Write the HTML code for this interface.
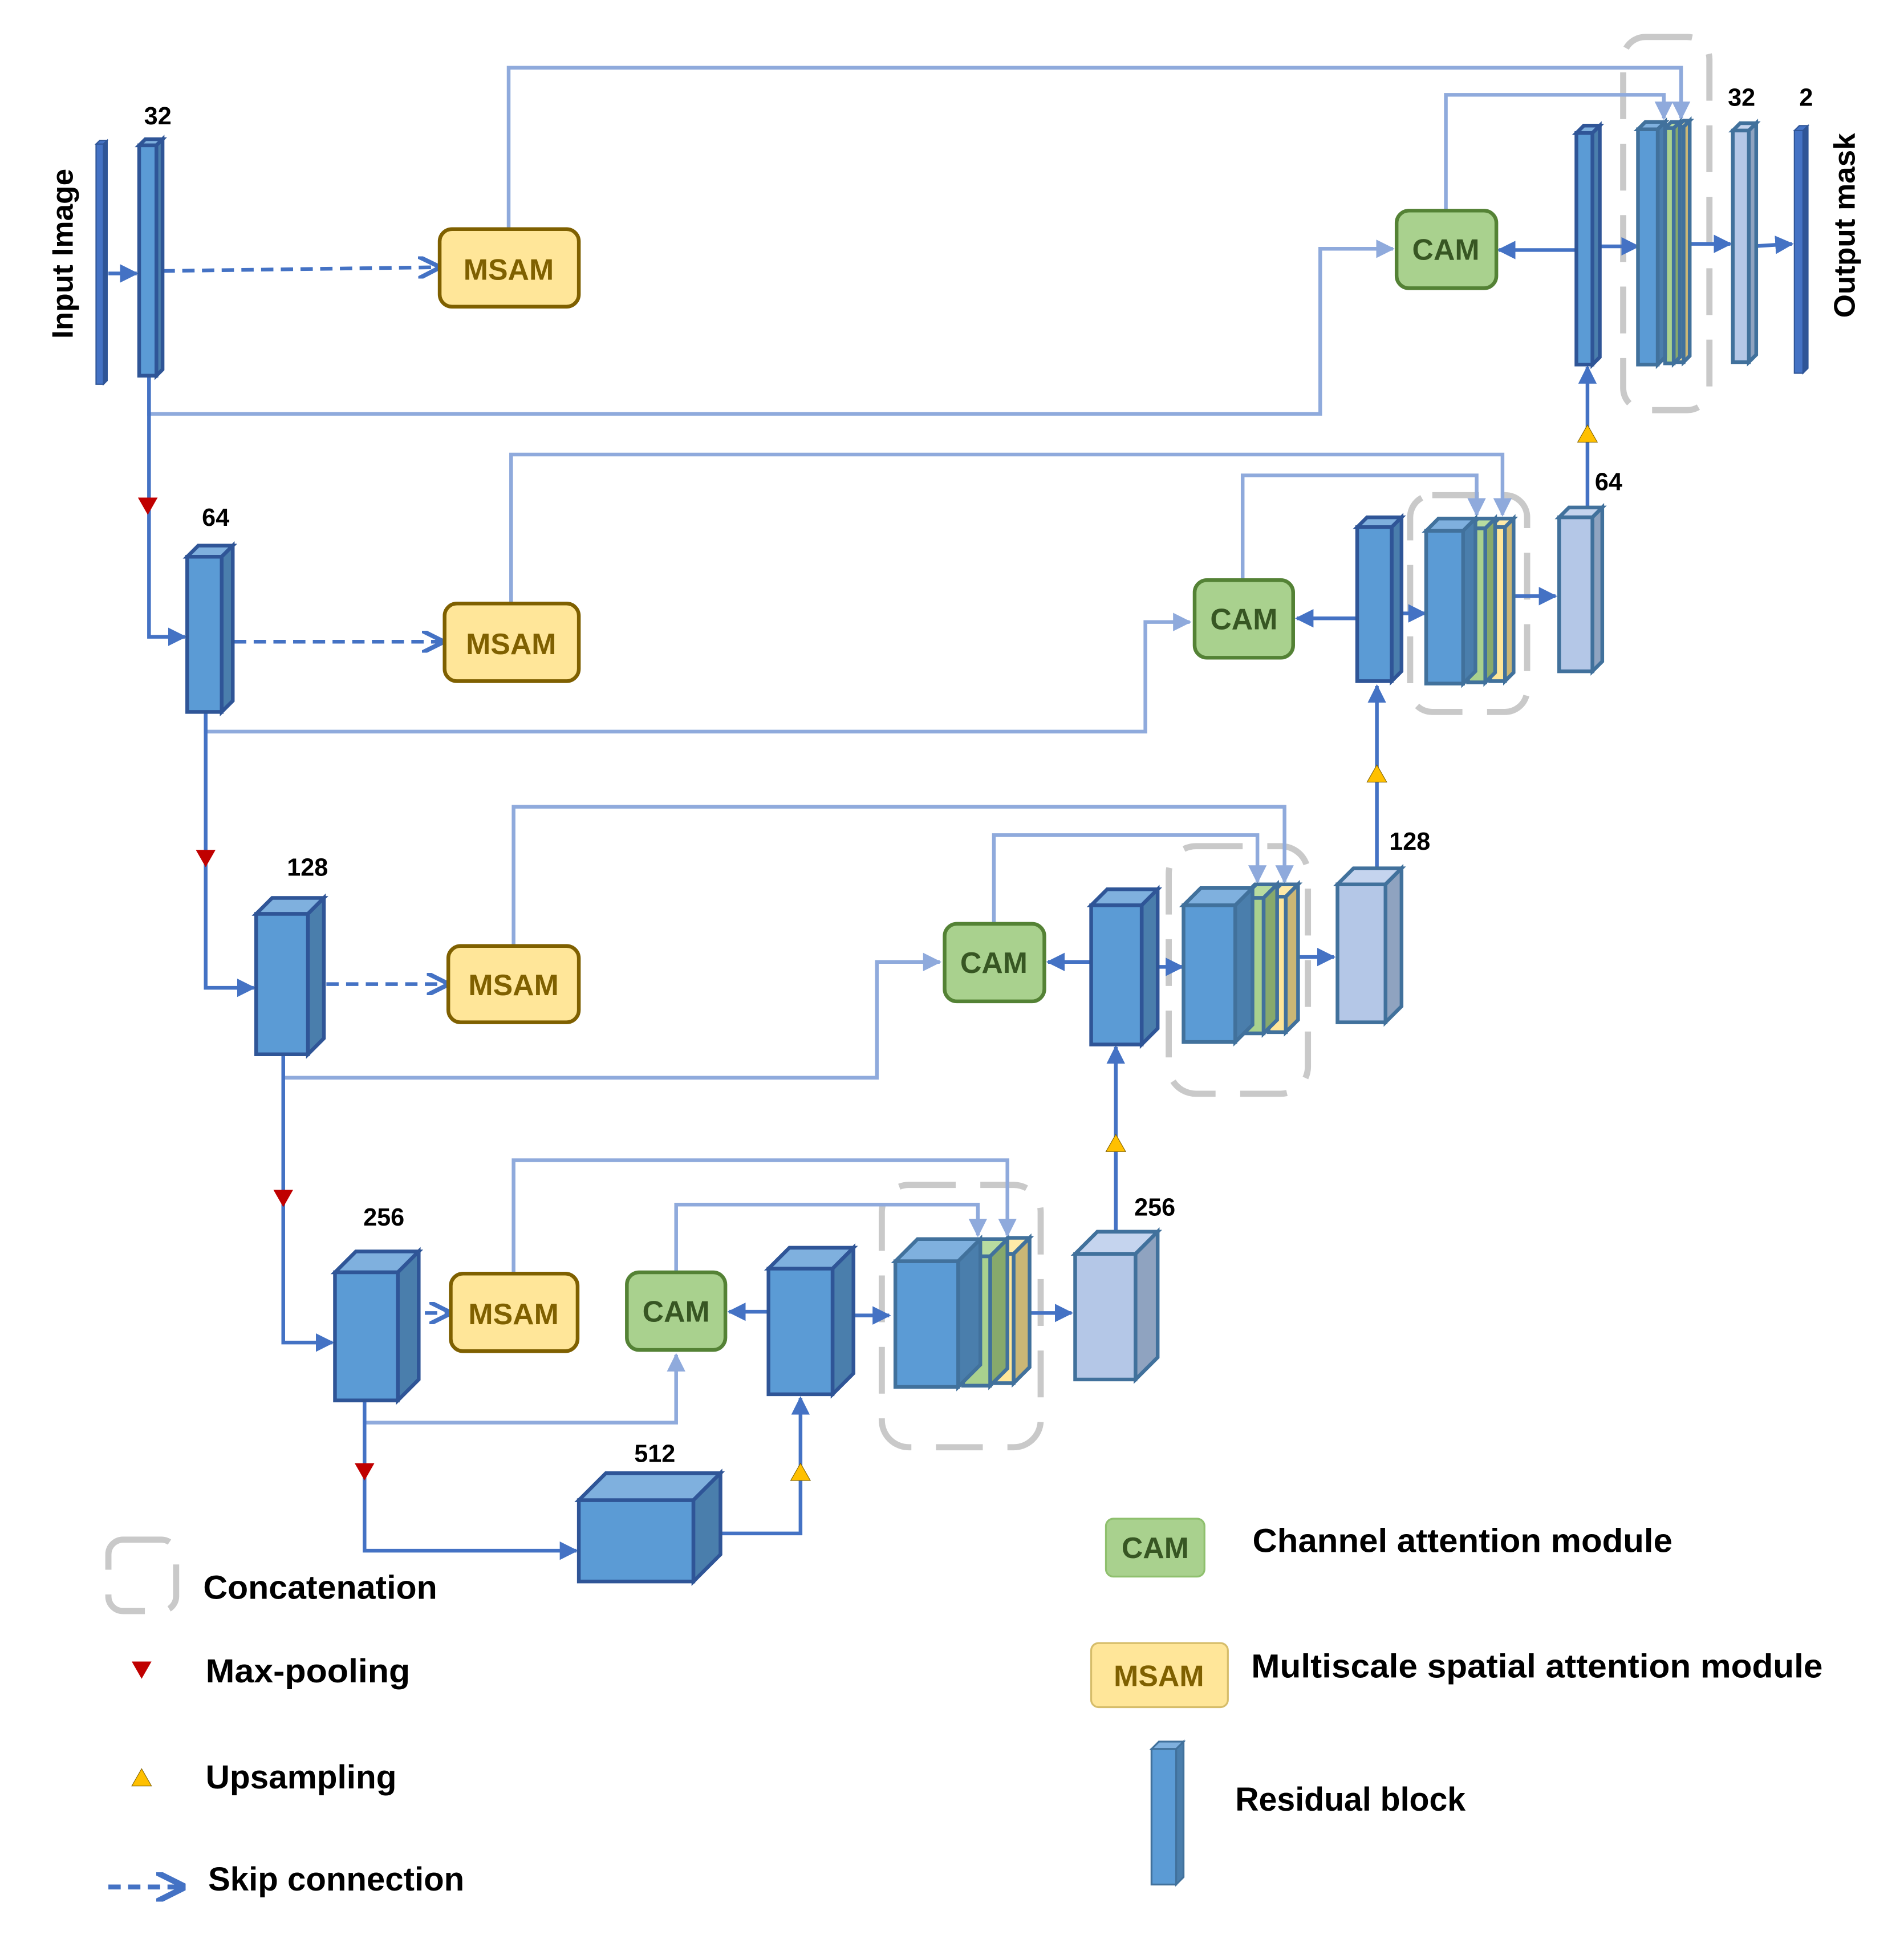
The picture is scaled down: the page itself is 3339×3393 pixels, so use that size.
<!DOCTYPE html>
<html><head><meta charset="utf-8"><style>
html,body{margin:0;padding:0;background:#fff;}
svg{display:block;}
text{font-family:"Liberation Sans",sans-serif;font-weight:bold;}
</style></head><body>
<svg id="s" width="3339" height="3393" viewBox="0 0 1546 1571" preserveAspectRatio="none" xmlns="http://www.w3.org/2000/svg">
<defs>
<marker id="ab" viewBox="0 0 10 10" refX="9" refY="5" markerWidth="5" markerHeight="5" orient="auto"><path d="M0,0L10,5L0,10z" fill="#4472c4"/></marker>
<marker id="al" viewBox="0 0 10 10" refX="9" refY="5" markerWidth="5" markerHeight="5" orient="auto"><path d="M0,0L10,5L0,10z" fill="#8faadc"/></marker>
<marker id="ao" viewBox="0 0 10 10" refX="8" refY="5" markerWidth="6" markerHeight="6" orient="auto"><path d="M0,0L10,5L0,10" fill="none" stroke="#4472c4" stroke-width="2"/></marker>
</defs>
<g fill="none" stroke-width="3">
<g stroke="#c9c9c9" stroke-width="5" stroke-dasharray="38,20">
<rect x="1318" y="30" width="70" height="303" rx="18"/>
<rect x="1145" y="402" width="95" height="176" rx="18"/>
<rect x="949" y="687" width="113" height="201" rx="22"/>
<rect x="716" y="962" width="129" height="213" rx="22"/>
<rect x="88" y="1250" width="55" height="58" rx="12"/>
</g>
<g stroke="#8faadc">
<path d="M413,186V55H1365V96" marker-end="url(#al)"/>
<path d="M1174,171V77H1351V96" marker-end="url(#al)"/>
<path d="M121,305V336H1072V202H1131" marker-end="url(#al)"/>
<path d="M415,490V369H1220V418" marker-end="url(#al)"/>
<path d="M1009,471V386H1199V418" marker-end="url(#al)"/>
<path d="M167,578V594H930V505H966" marker-end="url(#al)"/>
<path d="M417,768V655H1043V716" marker-end="url(#al)"/>
<path d="M807,750V678H1021V716" marker-end="url(#al)"/>
<path d="M230,856V875H712V781H763" marker-end="url(#al)"/>
<path d="M417,1034V942H818V1003" marker-end="url(#al)"/>
<path d="M549,1033V978H794V1003" marker-end="url(#al)"/>
<path d="M296,1137V1155H549V1100" marker-end="url(#al)"/>
</g>
<g stroke="#4472c4">
<path d="M88,222H111" marker-end="url(#ab)"/>
<path d="M121,305V517H150" marker-end="url(#ab)"/>
<path d="M167,578V802H206" marker-end="url(#ab)"/>
<path d="M230,856V1090H270" marker-end="url(#ab)"/>
<path d="M296,1137V1259H468" marker-end="url(#ab)"/>
<path d="M585,1245H650V1135" marker-end="url(#ab)"/>
<path d="M624,1065H592" marker-end="url(#ab)"/>
<path d="M680,1068H722" marker-end="url(#ab)"/>
<path d="M833,1066H870" marker-end="url(#ab)"/>
<path d="M906,1000V850" marker-end="url(#ab)"/>
<path d="M886,781H851" marker-end="url(#ab)"/>
<path d="M940,785H960" marker-end="url(#ab)"/>
<path d="M1050,777H1083" marker-end="url(#ab)"/>
<path d="M1118,705V557" marker-end="url(#ab)"/>
<path d="M1102,502H1053" marker-end="url(#ab)"/>
<path d="M1138,498H1157" marker-end="url(#ab)"/>
<path d="M1228,484H1263" marker-end="url(#ab)"/>
<path d="M1289,411V298" marker-end="url(#ab)"/>
<path d="M1280,203H1217" marker-end="url(#ab)"/>
<path d="M1300,200H1330" marker-end="url(#ab)"/>
<path d="M1370,198H1405" marker-end="url(#ab)"/>
<path d="M1422,200L1455,198" marker-end="url(#ab)"/>
</g>
<g stroke="#4472c4" stroke-dasharray="10,6">
<path d="M132,220L354,217" marker-end="url(#ao)"/>
<path d="M190,521H357" marker-end="url(#ao)"/>
<path d="M265,799H361" marker-end="url(#ao)"/>
<path d="M345,1066H363" marker-end="url(#ao)"/>
<path d="M88,1532H146" marker-end="url(#ao)" stroke-width="4"/>
</g>
</g>
<g id="boxes"></g>
<g fill="#c00000">
<path d="M112,404h16l-8,14z"/><path d="M159,690h16l-8,14z"/><path d="M222,966h16l-8,14z"/><path d="M288,1188h16l-8,14z"/><path d="M107,1349h16l-8,14z"/>
</g>
<g fill="#ffc000" stroke="#7f6000" stroke-width="0.5">
<path d="M642,1202h16l-8,-14z"/><path d="M898,935h16l-8,-14z"/><path d="M1110,635h16l-8,-14z"/><path d="M1281,359h16l-8,-14z"/><path d="M107,1450h16l-8,-14z"/>
</g>
<g stroke-width="3">
<g fill="#ffe699" stroke="#7f6000">
<rect x="357" y="186" width="113" height="63" rx="10"/>
<rect x="361" y="490" width="109" height="63" rx="10"/>
<rect x="364" y="768" width="106" height="62" rx="10"/>
<rect x="366" y="1034" width="103" height="63" rx="10"/>
</g>
<g fill="#a9d18e" stroke="#548235">
<rect x="1134" y="171" width="81" height="63" rx="10"/>
<rect x="970" y="471" width="80" height="63" rx="10"/>
<rect x="767" y="750" width="81" height="63" rx="10"/>
<rect x="509" y="1033" width="80" height="63" rx="10"/>
</g>
<rect x="898" y="1233" width="80" height="47" rx="6" fill="#a9d18e" stroke="#8fc06e" stroke-width="1.5"/>
<rect x="886" y="1334" width="111" height="52" rx="6" fill="#ffe699" stroke="#d6bd6a" stroke-width="1.5"/>
</g>
<g font-size="24" text-anchor="middle">
<g fill="#7f6000">
<text x="413" y="227">MSAM</text><text x="415" y="531">MSAM</text><text x="417" y="808">MSAM</text><text x="417" y="1075">MSAM</text><text x="941" y="1369">MSAM</text>
</g>
<g fill="#375623">
<text x="1174" y="211">CAM</text><text x="1010" y="511">CAM</text><text x="807" y="790">CAM</text><text x="549" y="1073">CAM</text><text x="938" y="1265">CAM</text>
</g>
</g>
<g font-size="20" fill="#000">
<text x="117" y="101">32</text><text x="164" y="427">64</text><text x="233" y="711">128</text><text x="295" y="995">256</text><text x="515" y="1187">512</text>
<text x="921" y="987">256</text><text x="1128" y="690">128</text><text x="1295" y="398">64</text><text x="1403" y="86">32</text><text x="1461" y="86">2</text>
<text transform="translate(59,275) rotate(-90)" font-size="24" textLength="138" lengthAdjust="spacingAndGlyphs">Input Image</text>
<text transform="translate(1506,258) rotate(-90)" font-size="24" textLength="150" lengthAdjust="spacingAndGlyphs">Output mask</text>
</g>
<g font-size="27" fill="#000">
<text x="165" y="1298" textLength="190" lengthAdjust="spacingAndGlyphs">Concatenation</text>
<text x="167" y="1366" textLength="166" lengthAdjust="spacingAndGlyphs">Max-pooling</text>
<text x="167" y="1452" textLength="155" lengthAdjust="spacingAndGlyphs">Upsampling</text>
<text x="169" y="1535" textLength="208" lengthAdjust="spacingAndGlyphs">Skip connection</text>
<text x="1017" y="1260" textLength="341" lengthAdjust="spacingAndGlyphs">Channel attention module</text>
<text x="1016" y="1362" textLength="464" lengthAdjust="spacingAndGlyphs">Multiscale spatial attention module</text>
<text x="1003" y="1470" textLength="187" lengthAdjust="spacingAndGlyphs">Residual block</text>
</g>
</svg>
<script>
var g=document.getElementById('boxes'),NS='http://www.w3.org/2000/svg';
function P(pts,f,s,sw){var p=document.createElementNS(NS,'polygon');p.setAttribute('points',pts);p.setAttribute('fill',f);p.setAttribute('stroke',s);p.setAttribute('stroke-width',sw);p.setAttribute('stroke-linejoin','miter');g.appendChild(p);}
function B(x,y,w,h,d,c){c=c||{};var f=c.f||'#5b9bd5',t=c.t||'#7fb0de',sd=c.sd||'#4a7eac',s=c.s||'#2f5597',sw=c.sw||3;
P(x+','+y+' '+(x+d)+','+(y-d)+' '+(x+w+d)+','+(y-d)+' '+(x+w)+','+y,t,s,sw);
P((x+w)+','+y+' '+(x+w+d)+','+(y-d)+' '+(x+w+d)+','+(y+h-d)+' '+(x+w)+','+(y+h),sd,s,sw);
P(x+','+y+' '+(x+w)+','+y+' '+(x+w)+','+(y+h)+' '+x+','+(y+h),f,s,sw);}
var L={f:'#b4c7e7',t:'#c5d4ee',sd:'#8fa3c0',s:'#41719c'};
var C={s:'#41719c'},G={f:'#a9d18e',t:'#b8dca0',sd:'#87a96c',s:'#41719c'},Y={f:'#ffe699',t:'#ffeaa8',sd:'#cbb775',s:'#41719c'};
B(78,117,6,195,3,{f:'#4472c4',t:'#4472c4',sd:'#2f5597',s:'#2f5597',sw:1});
B(1457,106,7,197,4,{f:'#4472c4',t:'#4472c4',sd:'#2f5597',s:'#2f5597',sw:1});
B(113,118,14,187,5);B(152,452,28,126,9);B(208,742,42,114,13);B(272,1033,51,104,17);B(470,1218,93,66,22);
B(1280,108,13,188,6);B(1102,428,28,125,8);B(886,735,41,113,13);B(624,1030,52,102,17);
B(1362,103,5,191,5,Y);B(1352,104,7,191,5,G);B(1330,105,16,191,6,C);
B(1210,428,12,125,7,Y);B(1192,429,14,125,8,G);B(1158,431,30,124,10,C);
B(1030,728,14,110,10,Y);B(1008,729,18,110,11,G);B(961,735,42,111,14,C);
B(805,1018,18,105,13,Y);B(782,1020,22,105,14,G);B(727,1024,51,102,18,C);
B(1407,106,13,188,6,L);B(1266,420,27,125,8,L);B(1086,718,39,112,13,L);B(873,1018,49,102,18,L);
B(935,1420,20,110,6,{s:'#41719c',sw:1.5});
</script>
</body></html>
